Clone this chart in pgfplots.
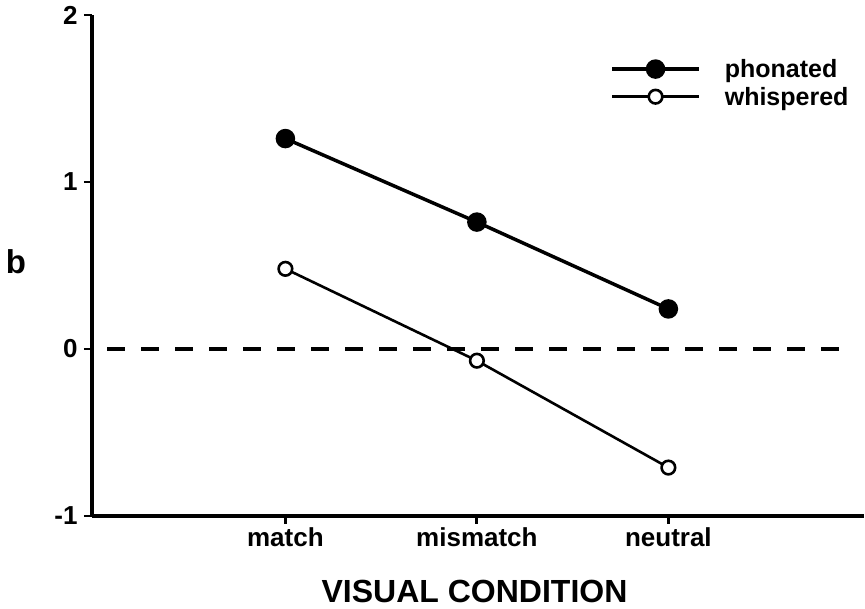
\documentclass[border=0pt]{standalone}
\usepackage{fontspec}
\setmainfont{Liberation Sans}
\usepackage{pgfplots}
\pgfplotsset{compat=1.18}
\begin{document}
\begin{tikzpicture}
\useasboundingbox (-92pt,-93pt) rectangle (773pt,516pt);
\begin{axis}[
  at={(0,0)}, anchor=south west,
  scale only axis, width=771.7pt, height=501pt,
  xmin=-0.01, xmax=4.02, ymin=-1, ymax=2,
  clip=false,
  axis lines*=left,
  axis line style={line width=3.5pt},
  xtick={1,2,3}, xticklabels={match,mismatch,neutral},
  ytick={-1,0,1,2},
  tick align=outside,
  major tick length=8pt,
  tick style={line width=2.8pt, black},
  ticklabel style={font=\fontsize{26}{30}\selectfont\bfseries},
  yticklabel style={xshift=-3pt},
  /pgf/number format/assume math mode=true,
  xlabel={VISUAL CONDITION}, ylabel={b},
  xlabel style={font=\fontsize{32}{38}\selectfont\bfseries, at={(rel axis cs:0.4957,-0.172)}, anchor=base, inner sep=0pt},
  ylabel style={font=\fontsize{33}{38}\selectfont\bfseries, at={(rel axis cs:-0.0985,0.485)}, anchor=base, rotate=-90, inner sep=0pt},
  legend style={draw=none, fill=none, at={(rel axis cs:0.6675,0.92)}, anchor=north west,
    font=\fontsize{25}{30}\selectfont\bfseries, row sep=4pt},
  legend cell align=left,
  legend image code/.code={\draw[#1, mark repeat=2, mark phase=2] plot coordinates {(0pt,0pt) (43.5pt,0pt) (87pt,0pt)};\path (109pt,0pt);},
]
\addplot[black, line width=3.5pt, dash pattern=on 18pt off 16pt, forget plot] coordinates {(0.07,0) (3.93,0)};
\addplot[black, line width=3.5pt, mark=*, mark size=8pt, mark options={solid, fill=black}] coordinates {(1,1.26) (2,0.76) (3,0.24)};
\addlegendentry{phonated}
\addplot[black, line width=2.6pt, mark=*, mark size=6.8pt, mark options={solid, fill=white}] coordinates {(1,0.48) (2,-0.07) (3,-0.71)};
\addlegendentry{whispered}
\end{axis}
\end{tikzpicture}
\end{document}
